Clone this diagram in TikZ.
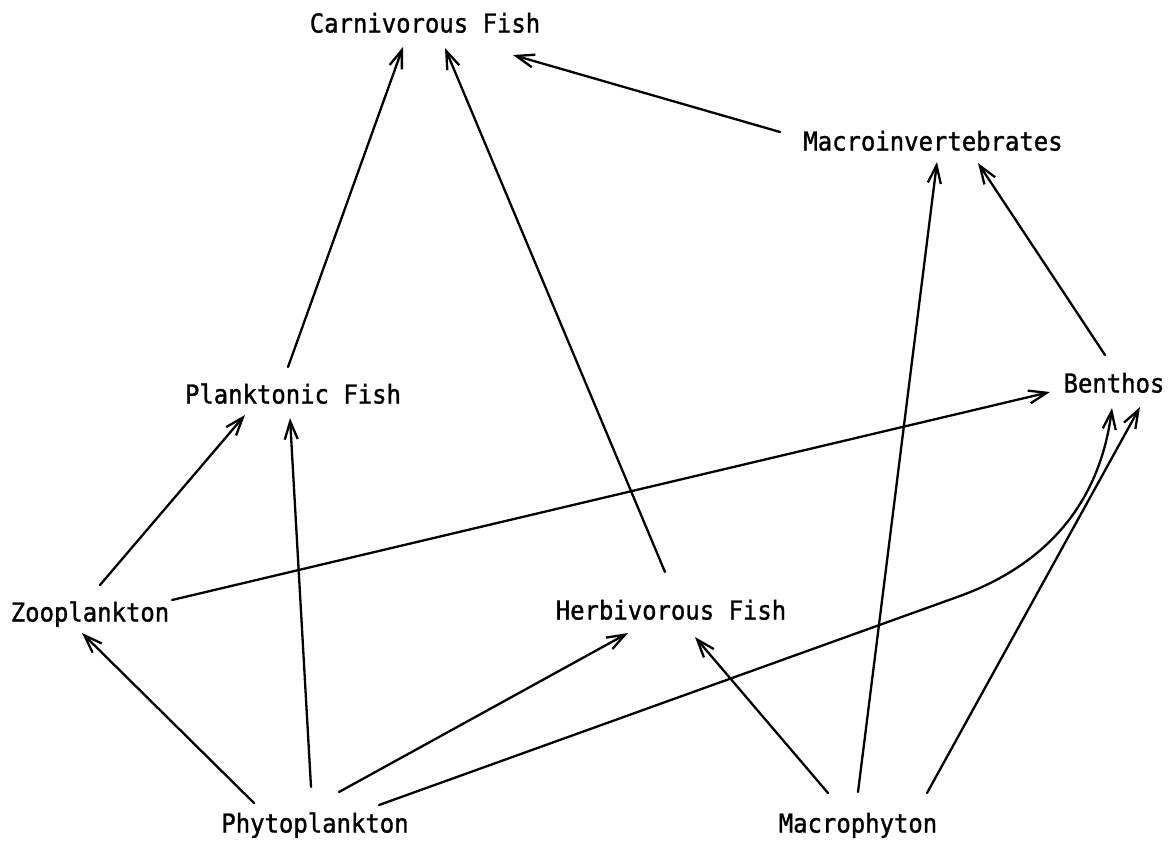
\documentclass[tikz,border=0pt]{standalone}
\usepackage{fontspec}
\newfontfamily\twfont[FakeStretch=0.92,FakeBold=1.2]{DejaVu Sans Mono}
\usetikzlibrary{arrows.meta}
\tikzset{
  lbl/.style={inner sep=0pt, text height=19pt, text depth=0pt, font=\twfont\fontsize{26}{26}\selectfont},
  arr/.style={line width=2.3pt, line cap=round, -{Straight Barb[length=18pt,width=13pt]}}
}
\begin{document}
\begin{tikzpicture}[x=1pt,y=-1pt]
\useasboundingbox (0,0) rectangle (1172,847);
\fill[white] (0,0) rectangle (1172,847);
% nodes
\node[lbl] (cf) at (425,23) {Carnivorous Fish};
\node[lbl] (mi) at (933,141) {Macroinvertebrates};
\node[lbl] (pf) at (293,394) {Planktonic Fish};
\node[lbl] (be) at (1114,383) {Benthos};
\node[lbl] (zp) at (90,612) {Zooplankton};
\node[lbl] (hf) at (671,610) {Herbivorous Fish};
\node[lbl] (ph) at (315,823) {Phytoplankton};
\node[lbl] (mp) at (858,823) {Macrophyton};
% helper coordinates of the curved connector
\coordinate (bend) at (960,596);
\coordinate (ca) at (1050,563);
\coordinate (cb) at (1100,500);
% connectors
\draw[arr] ([shift={(-5,-27)}]pf.center) -- ([shift={(-22,24)}]cf.center);
\draw[arr] ([shift={(-6,-38)}]hf.center) -- ([shift={(20,25)}]cf.center);
\draw[arr] ([shift={(-153,-9)}]mi.center) -- ([shift={(88,32)}]cf.center);
\draw[arr] ([shift={(0,-31)}]mp.center) -- ([shift={(4,21)}]mi.center);
\draw[arr] ([shift={(-9,-28)}]be.center) -- ([shift={(45,22)}]mi.center);
\draw[arr] ([shift={(82,-12)}]zp.center) -- ([shift={(-64,9)}]be.center);
\draw[arr] ([shift={(10,-27)}]zp.center) -- ([shift={(-48,21)}]pf.center);
\draw[arr] ([shift={(-61,-20)}]ph.center) -- ([shift={(-8,21)}]zp.center);
\draw[arr] ([shift={(-4,-36)}]ph.center) -- ([shift={(-3,24)}]pf.center);
\draw[arr] ([shift={(24,-31)}]ph.center) -- ([shift={(-43,23)}]hf.center);
\draw[arr] ([shift={(64,-18)}]ph.center) -- (bend) .. controls (ca) and (cb) .. ([shift={(-2,25)}]be.center);
\draw[arr] ([shift={(-30,-30)}]mp.center) -- ([shift={(24,27)}]hf.center);
\draw[arr] ([shift={(69,-30)}]mp.center) -- ([shift={(26,24)}]be.center);
\end{tikzpicture}
\end{document}
